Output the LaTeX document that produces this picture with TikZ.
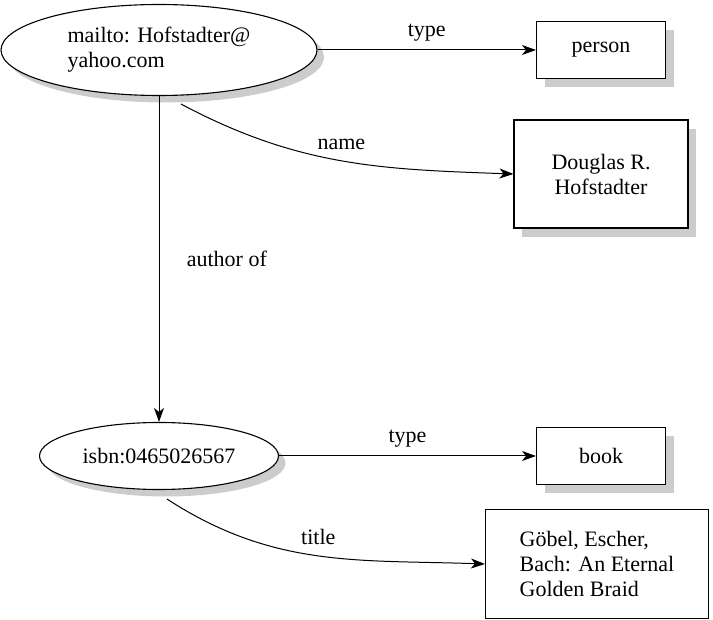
\documentclass[tikz,border=0pt]{standalone}
\usepackage{fontspec}
\setmainfont{Liberation Serif}
\usepackage{tikz}
\usepackage{xcolor}
\usetikzlibrary{shapes.geometric, arrows.meta, positioning, shadows, calc}
\definecolor{shadowgray}{RGB}{204, 204, 204}

\begin{document}
\begin{tikzpicture}[x=1pt, y=-1pt, line width=1.1pt,
    every node/.style={font=\fontsize{22}{25}\selectfont},
    resnode/.style={ellipse, draw, fill=white, inner sep=0pt, align=left,
        drop shadow={shadow xshift=7pt, shadow yshift=-7pt, fill=shadowgray, opacity=1}},
    litnode/.style={rectangle, draw, fill=white, inner sep=0pt, align=left,
        drop shadow={shadow xshift=8pt, shadow yshift=-9pt, fill=shadowgray, opacity=1}},
    plainbox/.style={rectangle, draw, fill=white, inner sep=0pt, align=left},
    arc/.style={-{Stealth[length=14pt, width=10pt, inset=4pt]}, line width=1pt}]
    \useasboundingbox (0,0) rectangle (713,620);

    % Resources
    \node[resnode, minimum width=316pt, minimum height=91pt] (mailto) at (159,50)
        {mailto: Hofstadter@\\yahoo.com};
    \node[resnode, minimum width=239pt, minimum height=67pt] (isbn) at (159,456)
        {isbn:0465026567};

    % Literals and classes
    \node[litnode, minimum width=129pt, minimum height=57pt] (person) at (601,50) {person};
    \node[litnode, minimum width=174pt, minimum height=108pt, align=center] (douglas) at (601,174)
        {Douglas R.\\Hofstadter};
    \node[litnode, minimum width=129pt, minimum height=57pt] (book) at (601,456) {book};
    \node[plainbox, minimum width=223pt, minimum height=109pt] (title) at (597,564)
        {G\"obel, Escher,\\Bach: An Eternal\\Golden Braid};

    % Properties
    \draw[arc] (mailto.east) -- node[midway, above=5pt] {type} (person.west);
    \draw[arc] ([xshift=22pt, yshift=-8pt]mailto.south) to[out=-28, in=178]
        node[midway, above=7pt] {name} (douglas.west);
    \draw[arc] (mailto.south) -- node[midway, right=24pt] {author of} (isbn.north);
    \draw[arc] (isbn.east) -- node[midway, above=5pt] {type} (book.west);
    \draw[arc] ([xshift=8pt, yshift=-9pt]isbn.south) to[out=-33, in=178]
        node[midway, above=7pt] {title} (title.west);
\end{tikzpicture}
\end{document}
